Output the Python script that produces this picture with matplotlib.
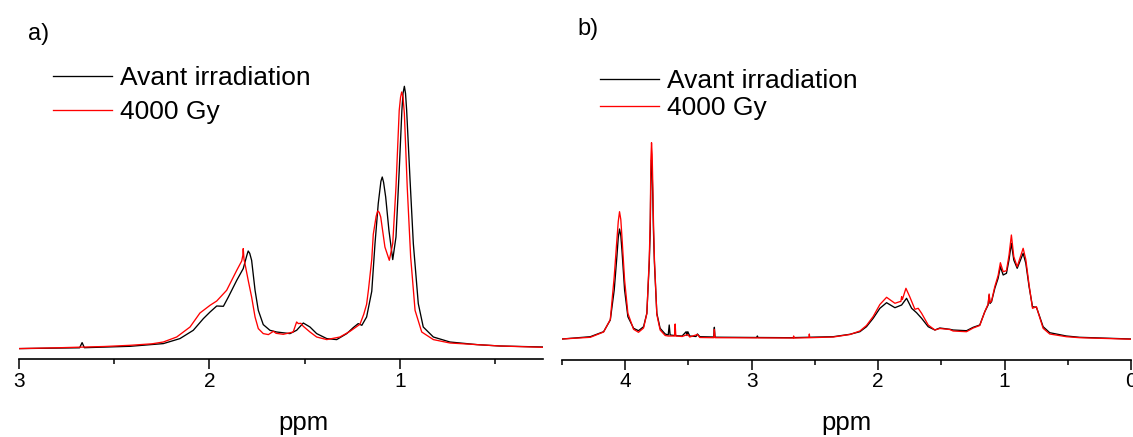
import numpy as np
import matplotlib
matplotlib.use('Agg')
import matplotlib.pyplot as plt
from matplotlib.ticker import MultipleLocator, FormatStrFormatter

plt.rcParams['font.family'] = ['Liberation Sans', 'DejaVu Sans']

# ---- panel a) : values (ppm, intensity a.u.) ----
ppm_a_avant = [3.00, 2.80, 2.68, 2.667, 2.655, 2.55, 2.415, 2.241, 2.154, 2.084,
               2.031, 1.996, 1.961, 1.926, 1.90, 1.856, 1.822, 1.803, 1.796, 1.788,
               1.778, 1.760, 1.743, 1.717, 1.682, 1.647, 1.577, 1.542, 1.507, 1.472,
               1.437, 1.384, 1.332, 1.279, 1.245, 1.219, 1.20, 1.175, 1.148, 1.131,
               1.114, 1.100, 1.093, 1.086, 1.075, 1.058, 1.038, 1.021, 1.004, 0.99,
               0.984, 0.977, 0.971, 0.965, 0.948, 0.93, 0.904, 0.878, 0.825, 0.738,
               0.598, 0.476, 0.25]
int_a_avant = [10.7, 11.2, 11.5, 16.7, 11.6, 12.2, 13.0, 15.7, 20.7, 29.0,
               40.7, 47.3, 53.3, 53.0, 62.3, 79.0, 90.7, 104.0, 108.3, 106.0,
               99.0, 69.0, 49.0, 34.7, 29.0, 27.3, 25.7, 29.0, 36.3, 32.3,
               25.7, 20.7, 19.7, 25.7, 31.7, 35.7, 34.0, 42.3, 68.0, 115.7,
               155.7, 178.0, 182.3, 177.0, 162.3, 129.0, 99.7, 122.3, 189.0, 249.0,
               266.0, 273.0, 266.0, 249.0, 182.3, 115.7, 55.7, 32.3, 22.3, 17.3,
               14.7, 13.3, 12.3]

ppm_a_4000 = [3.00, 2.80, 2.55, 2.415, 2.30, 2.241, 2.171, 2.101, 2.049, 1.996,
              1.961, 1.909, 1.856, 1.83, 1.824, 1.822, 1.818, 1.813, 1.796, 1.778,
              1.760, 1.743, 1.717, 1.69, 1.664, 1.650, 1.612, 1.56, 1.542, 1.533,
              1.52, 1.507, 1.472, 1.437, 1.384, 1.315, 1.262, 1.21, 1.19, 1.175,
              1.165, 1.148, 1.14, 1.125, 1.117, 1.109, 1.101, 1.079, 1.056, 1.038,
              1.021, 1.004, 0.997, 0.991, 0.984, 0.977, 0.962, 0.944, 0.921, 0.886,
              0.825, 0.738, 0.476, 0.25]
int_a_4000 = [10.7, 11.5, 12.8, 14.0, 15.5, 17.3, 22.3, 32.3, 46.3, 54.0,
              58.3, 69.0, 89.0, 98.3, 104.0, 110.7, 100.0, 95.7, 79.0, 62.3,
              42.3, 30.7, 25.7, 24.7, 28.0, 26.0, 25.0, 27.3, 37.3, 35.7,
              36.0, 33.0, 27.3, 22.3, 19.7, 22.3, 28.0, 35.0, 45.0, 55.0,
              70.0, 100.0, 125.0, 143.0, 148.3, 147.0, 142.3, 112.3, 99.0, 115.7,
              172.3, 249.0, 262.0, 267.3, 262.0, 245.7, 172.3, 102.3, 49.0, 27.3,
              19.7, 16.3, 13.3, 12.0]

# ---- panel b) ----
ppm_b_avant = [4.50, 4.40, 4.276, 4.171, 4.118, 4.087, 4.066, 4.055, 4.045, 4.035,
               4.026, 4.005, 3.979, 3.934, 3.895, 3.855, 3.829, 3.81, 3.802, 3.797,
               3.792, 3.787, 3.782, 3.777, 3.769, 3.75, 3.724, 3.684, 3.66, 3.652,
               3.645, 3.61, 3.605, 3.60, 3.55, 3.518, 3.512, 3.505, 3.49, 3.44,
               3.429, 3.41, 3.30, 3.295, 3.29, 2.96, 2.955, 2.95, 2.70, 2.355,
               2.223, 2.144, 2.092, 2.039, 1.986, 1.933, 1.867, 1.814, 1.775, 1.735,
               1.696, 1.656, 1.604, 1.551, 1.512, 1.433, 1.407, 1.301, 1.248, 1.196,
               1.156, 1.13, 1.122, 1.115, 1.103, 1.077, 1.051, 1.033, 1.011, 0.985,
               0.965, 0.946, 0.927, 0.90, 0.874, 0.853, 0.832, 0.806, 0.779, 0.748,
               0.722, 0.695, 0.643, 0.511, 0.406, 0.0]
int_b_avant = [20.5, 21.5, 22.8, 27.8, 39.5, 69.5, 102.8, 122.0, 130.5, 124.0,
               109.5, 69.5, 42.8, 31.2, 28.8, 32.8, 46.2, 96.2, 130.0, 186.0,
               199.5, 188.0, 162.8, 130.0, 96.2, 46.2, 31.2, 25.5, 24.5, 34.5,
               24.5, 24.0, 26.0, 23.8, 23.5, 27.8, 24.0, 27.8, 23.5, 23.0,
               25.5, 22.8, 22.5, 32.2, 22.3, 22.0, 23.5, 22.0, 21.8, 22.8,
               25.2, 27.8, 32.8, 41.2, 51.2, 56.8, 51.8, 54.5, 61.2, 51.2,
               46.8, 41.2, 32.8, 29.5, 31.5, 30.2, 29.5, 28.8, 32.2, 34.5,
               47.8, 54.5, 64.5, 56.0, 57.8, 71.2, 81.2, 92.8, 84.5, 86.2,
               99.5, 116.2, 99.5, 91.2, 99.5, 106.2, 96.2, 72.8, 52.8, 52.2,
               42.8, 32.8, 26.8, 23.5, 22.2, 20.5]

ppm_b_4000 = [4.50, 4.276, 4.171, 4.118, 4.087, 4.066, 4.055, 4.045, 4.035, 4.026,
              4.005, 3.979, 3.934, 3.895, 3.855, 3.829, 3.81, 3.802, 3.797, 3.792,
              3.787, 3.782, 3.777, 3.769, 3.75, 3.724, 3.684, 3.66, 3.61, 3.605,
              3.60, 3.55, 3.518, 3.505, 3.49, 3.429, 3.41, 3.30, 3.295, 3.29,
              2.67, 2.668, 2.665, 2.547, 2.544, 2.541, 2.355, 2.223, 2.144, 2.092,
              2.039, 1.986, 1.933, 1.867, 1.83, 1.82, 1.814, 1.808, 1.78, 1.75,
              1.709, 1.683, 1.656, 1.604, 1.551, 1.512, 1.433, 1.407, 1.301, 1.248,
              1.196, 1.156, 1.13, 1.122, 1.115, 1.103, 1.077, 1.051, 1.033, 1.011,
              0.985, 0.965, 0.946, 0.927, 0.90, 0.874, 0.853, 0.832, 0.806, 0.779,
              0.748, 0.722, 0.695, 0.643, 0.511, 0.406, 0.0]
int_b_4000 = [20.5, 22.2, 27.5, 40.0, 82.8, 119.5, 138.0, 147.8, 140.0, 122.8,
              79.5, 46.2, 30.2, 27.2, 31.5, 46.0, 100.0, 140.0, 200.0, 216.8,
              205.0, 175.0, 140.0, 100.0, 45.0, 29.5, 24.0, 23.5, 23.5, 35.5,
              23.5, 23.0, 24.5, 25.0, 22.5, 25.0, 22.0, 21.8, 30.0, 21.8,
              21.5, 23.5, 21.5, 21.8, 25.5, 21.8, 22.5, 25.0, 28.5, 34.0,
              43.0, 55.0, 62.2, 56.2, 57.8, 58.0, 62.8, 60.0, 71.2, 62.8,
              50.2, 51.2, 46.2, 34.5, 29.5, 31.0, 30.0, 28.5, 27.8, 31.5,
              34.0, 48.0, 55.5, 65.5, 57.0, 58.5, 73.0, 84.0, 96.8, 87.8,
              88.8, 104.0, 124.5, 102.8, 92.8, 103.0, 111.2, 100.0, 74.5, 51.2,
              52.8, 42.0, 31.2, 25.5, 22.8, 21.8, 20.3]

series_labels = ['Avant irradiation', '4000 Gy']
colors_ = ['black', 'red']

#%%
W, H = 1133, 437
fig = plt.figure(figsize=(W / 100, H / 100), dpi=100)


def setup(ax, xlim, xlabel_x):
    ax.set_xlim(*xlim)
    ax.set_ylim(0, 300)
    for s in ['top', 'left', 'right']:
        ax.spines[s].set_visible(False)
    ax.spines['bottom'].set_linewidth(1.2)
    ax.set_yticks([])
    ax.xaxis.set_major_locator(MultipleLocator(1))
    ax.xaxis.set_minor_locator(MultipleLocator(0.5))
    ax.xaxis.set_major_formatter(FormatStrFormatter('%d'))
    ax.tick_params(axis='x', which='major', direction='out', length=7.5, width=1.1,
                   labelsize=15, pad=1.5)
    ax.tick_params(axis='x', which='minor', direction='out', length=3.5, width=1.1)
    ax.set_xlabel('ppm', fontsize=18.5)
    ax.xaxis.set_label_coords(xlabel_x, -0.172)
    ax.patch.set_alpha(0)


axa = fig.add_axes([18.6 / W, 77.7 / H, 524.4 / W, 300 / H])
axa.plot(ppm_a_avant, int_a_avant, color=colors_[0], lw=0.95, label=series_labels[0])
axa.plot(ppm_a_4000, int_a_4000, color=colors_[1], lw=0.95, label=series_labels[1])
setup(axa, (3, 0.25), 0.5435)
axa.legend(loc='upper left', bbox_to_anchor=(52.5 / W, 1 - 66 / H),
           bbox_transform=fig.transFigure, frameon=False, fontsize=19,
           handlelength=2.25, handletextpad=0.3, labelspacing=0.39,
           borderpad=0, borderaxespad=0)

axb = fig.add_axes([562 / W, 77.5 / H, 569 / W, 300 / H])
axb.plot(ppm_b_avant, int_b_avant, color=colors_[0], lw=0.95, label=series_labels[0])
axb.plot(ppm_b_4000, int_b_4000, color=colors_[1], lw=0.95, label=series_labels[1])
setup(axb, (4.5, 0), 0.5)
axb.legend(loc='upper left', bbox_to_anchor=(600 / W, 1 - 69 / H),
           bbox_transform=fig.transFigure, frameon=False, fontsize=19,
           handlelength=2.25, handletextpad=0.3, labelspacing=0.12,
           borderpad=0, borderaxespad=0)

fig.text(28 / W, 1 - 40 / H, 'a)', fontsize=17, va='baseline', ha='left')
fig.text(577 / W, 1 - 35 / H, 'b)', fontsize=17, va='baseline', ha='left')

fig.savefig('out.png', dpi=100)
